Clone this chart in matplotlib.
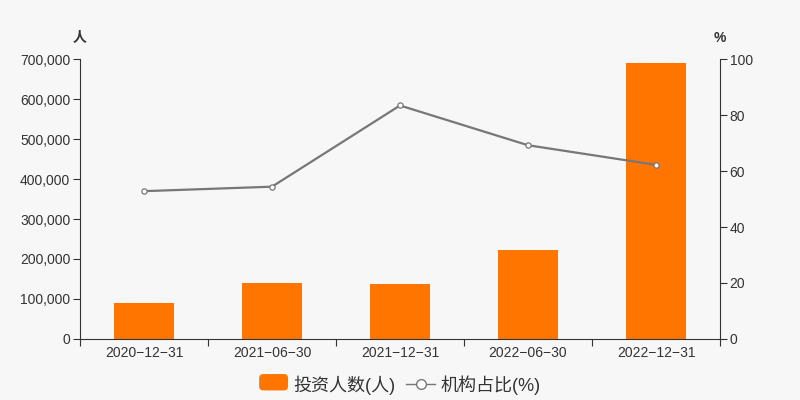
import matplotlib.pyplot as plt
from matplotlib.ticker import FuncFormatter
from matplotlib.patches import FancyBboxPatch
from matplotlib.legend_handler import HandlerPatch

plt.rcParams['font.family'] = ['Liberation Sans', 'Noto Sans CJK SC', 'DejaVu Sans']

# data
dates = ['2020-12-31', '2021-06-30', '2021-12-31', '2022-06-30', '2022-12-31']
investors = [88800, 138800, 136300, 221300, 688800]
inst_ratio = [52.8, 54.4, 83.4, 69.2, 62.2]

bg = '#f7f7f7'
bar_color = '#ff7500'
line_color = '#777777'
text_color = '#333333'


class RoundedBox(HandlerPatch):
    def create_artists(self, legend, orig, xd, yd, w, h, fs, trans):
        p = FancyBboxPatch((xd, yd - 0.5), w, h + 1,
                           boxstyle='round,pad=0,rounding_size=3',
                           fc=bar_color, ec='none', transform=trans)
        return [p]


fig = plt.figure(figsize=(8, 4), dpi=100, facecolor=bg)
ax = fig.add_axes([0.1, 0.1525, 0.8, 0.7])
ax.set_facecolor(bg)
ax2 = ax.twinx()

x = list(range(len(dates)))
bars = ax.bar(x, investors, width=0.47, color=bar_color, zorder=2)
line, = ax2.plot(x, inst_ratio, color=line_color, lw=1.6, marker='o', ms=3.8,
                 mfc='white', mec=line_color, mew=0.9, zorder=3)

ax.set_xlim(-0.5, len(dates) - 0.5)
ax.set_ylim(0, 700000)
ax2.set_ylim(0, 100)
ax.set_yticks(range(0, 700001, 100000))
ax2.set_yticks(range(0, 101, 20))
ax.yaxis.set_major_formatter(FuncFormatter(lambda v, p: f'{int(v):,}'))

ax.set_xticks([i - 0.5 for i in range(len(dates) + 1)], minor=False)
ax.set_xticklabels([])
ax.set_xticks(x, minor=True)
ax.set_xticklabels([d.replace('-', '\u2212') for d in dates], minor=True)
ax.tick_params(axis='x', which='minor', length=0, labelsize=10, colors=text_color, pad=5)
ax.tick_params(axis='x', which='major', length=5, color=text_color)
ax.tick_params(axis='y', length=5, labelsize=10, colors=text_color, pad=2)
ax2.tick_params(axis='y', length=5, labelsize=10, colors=text_color, pad=2)

for a in (ax, ax2):
    a.spines['top'].set_visible(False)
    for s in ('left', 'right', 'bottom'):
        a.spines[s].set_color(text_color)
ax.spines['right'].set_visible(False)
ax2.spines['left'].set_visible(False)
ax2.spines['bottom'].set_visible(False)

fig.text(0.1, 0.905, '人', ha='center', va='center', fontsize=10,
         color=text_color, weight='bold')
fig.text(0.9, 0.905, '%', ha='center', va='center', fontsize=10,
         color=text_color, weight='bold')

line_handle = plt.Line2D([], [], color=line_color, lw=1, marker='o', ms=7,
                         mfc='white', mec=line_color, mew=1)
fig.legend([bars, line_handle], ['投资人数(人)', '机构占比(%)'], loc='center',
           bbox_to_anchor=(0.5, 0.037), ncol=2, frameon=False,
           fontsize=13, labelcolor=text_color, handlelength=1.6,
           handleheight=0.9, handletextpad=0.3, columnspacing=0.6,
           handler_map={bars: RoundedBox()})

fig.savefig('out.png', dpi=100, facecolor=bg)
